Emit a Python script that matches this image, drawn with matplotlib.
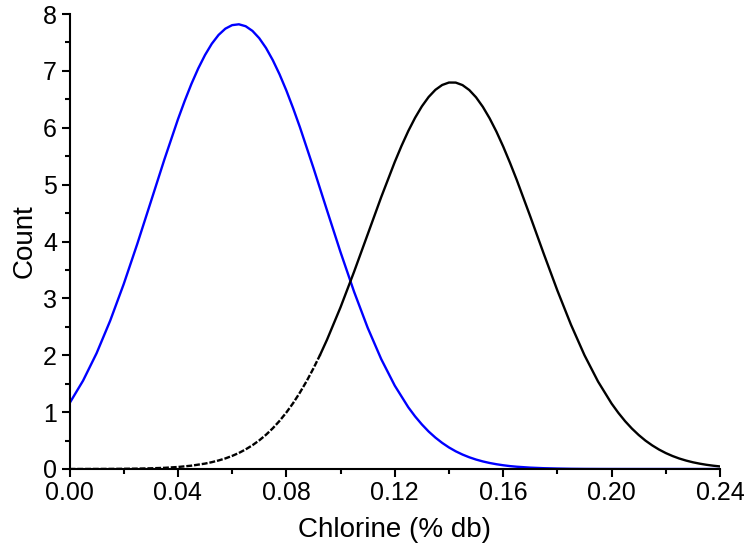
from matplotlib import pyplot as plt
from matplotlib.ticker import MultipleLocator

# values (Count vs chlorine content)
chlorine_blue = [0.000, 0.005, 0.010, 0.015, 0.020, 0.025, 0.030, 0.035, 0.040, 0.0425,
                 0.045, 0.0475, 0.050, 0.0525, 0.055, 0.0575, 0.060, 0.0625, 0.065, 0.0675,
                 0.070, 0.0725, 0.075, 0.0775, 0.080, 0.0825, 0.085, 0.090, 0.095, 0.100,
                 0.105, 0.110, 0.115, 0.120, 0.125, 0.1275, 0.130, 0.1325, 0.135, 0.1375,
                 0.140, 0.1425, 0.145, 0.1475, 0.150, 0.1525, 0.155, 0.1575, 0.160, 0.1625,
                 0.165, 0.170, 0.175, 0.180, 0.185, 0.190, 0.195, 0.200, 0.210, 0.220,
                 0.240]
count_blue = [1.155, 1.553, 2.036, 2.606, 3.251, 3.957, 4.698, 5.441, 6.147, 6.472,
              6.773, 7.043, 7.279, 7.477, 7.632, 7.742, 7.804, 7.819, 7.785, 7.703,
              7.575, 7.403, 7.189, 6.939, 6.656, 6.344, 6.011, 5.294, 4.549, 3.812,
              3.116, 2.485, 1.933, 1.466, 1.085, 0.925, 0.784, 0.659, 0.552, 0.459,
              0.379, 0.311, 0.254, 0.206, 0.166, 0.133, 0.106, 0.084, 0.066, 0.051,
              0.040, 0.024, 0.014, 0.008, 0.004, 0.002, 0.001, 0.0005, 0.0001, 0.0,
              0.0]

chlorine_black = [0.000, 0.005, 0.010, 0.015, 0.020, 0.025, 0.030, 0.035, 0.040, 0.045,
                  0.050, 0.0525, 0.055, 0.0575, 0.060, 0.0625, 0.065, 0.0675, 0.070, 0.0725,
                  0.075, 0.0775, 0.080, 0.0825, 0.085, 0.0875, 0.090, 0.0925, 0.095, 0.100,
                  0.105, 0.110, 0.115, 0.120, 0.1225, 0.125, 0.1275, 0.130, 0.1325, 0.135,
                  0.1375, 0.140, 0.1425, 0.145, 0.1475, 0.150, 0.1525, 0.155, 0.1575, 0.160,
                  0.1625, 0.165, 0.170, 0.175, 0.180, 0.185, 0.190, 0.195, 0.200, 0.2025,
                  0.205, 0.2075, 0.210, 0.2125, 0.215, 0.2175, 0.220, 0.2225, 0.225, 0.2275,
                  0.230, 0.2325, 0.235, 0.2375, 0.240]
count_black = [0.0002, 0.0005, 0.001, 0.002, 0.0036, 0.0066, 0.0119, 0.0207, 0.0353, 0.0586,
               0.0949, 0.120, 0.150, 0.186, 0.230, 0.282, 0.345, 0.418, 0.503, 0.602,
               0.716, 0.846, 0.993, 1.158, 1.343, 1.546, 1.769, 2.011, 2.272, 2.844,
               3.469, 4.124, 4.780, 5.398, 5.682, 5.943, 6.175, 6.376, 6.541, 6.667,
               6.752, 6.795, 6.794, 6.750, 6.663, 6.535, 6.368, 6.166, 5.933, 5.671,
               5.386, 5.084, 4.441, 3.781, 3.138, 2.539, 2.001, 1.538, 1.151, 0.987,
               0.840, 0.711, 0.598, 0.499, 0.415, 0.342, 0.280, 0.228, 0.184, 0.148,
               0.118, 0.094, 0.074, 0.058, 0.045]

# black curve is dashed on its left tail, up to this point
dash_end = 27

plt.rcParams['font.family'] = ['Liberation Sans', 'DejaVu Sans']

fig = plt.figure(figsize=(7.47, 5.48), dpi=100)
ax = fig.add_axes([69.5/747, 1-469/548, (720-69.5)/747, (469-14)/548])

ax.plot(chlorine_blue, count_blue, color='#0000ff', lw=1.7)
ax.plot(chlorine_black[:dash_end+1], count_black[:dash_end+1], color='black', lw=1.7,
        linestyle=(0, (2.5, 0.8)))
ax.plot(chlorine_black[dash_end:], count_black[dash_end:], color='black', lw=1.7)

ax.set_xlim(0, 0.24)
ax.set_ylim(0, 8)
ax.xaxis.set_major_locator(MultipleLocator(0.04))
ax.xaxis.set_minor_locator(MultipleLocator(0.02))
ax.yaxis.set_major_locator(MultipleLocator(1))
ax.yaxis.set_minor_locator(MultipleLocator(0.5))
ax.xaxis.set_major_formatter(plt.FormatStrFormatter('%.2f'))

for side in ['top', 'right']:
    ax.spines[side].set_visible(False)
for side in ['left', 'bottom']:
    ax.spines[side].set_linewidth(1.5)

ax.tick_params(which='major', direction='out', length=6, width=1.5, labelsize=18)
ax.tick_params(axis='x', which='major', pad=3)
ax.tick_params(axis='y', which='major', pad=3)
ax.tick_params(which='minor', direction='out', length=3.5, width=1.5)

ax.set_xlabel('Chlorine (% db)', fontsize=20, labelpad=8)
ax.set_ylabel('Count', fontsize=20, labelpad=4)

plt.savefig('out.png', dpi=100)
plt.close()
